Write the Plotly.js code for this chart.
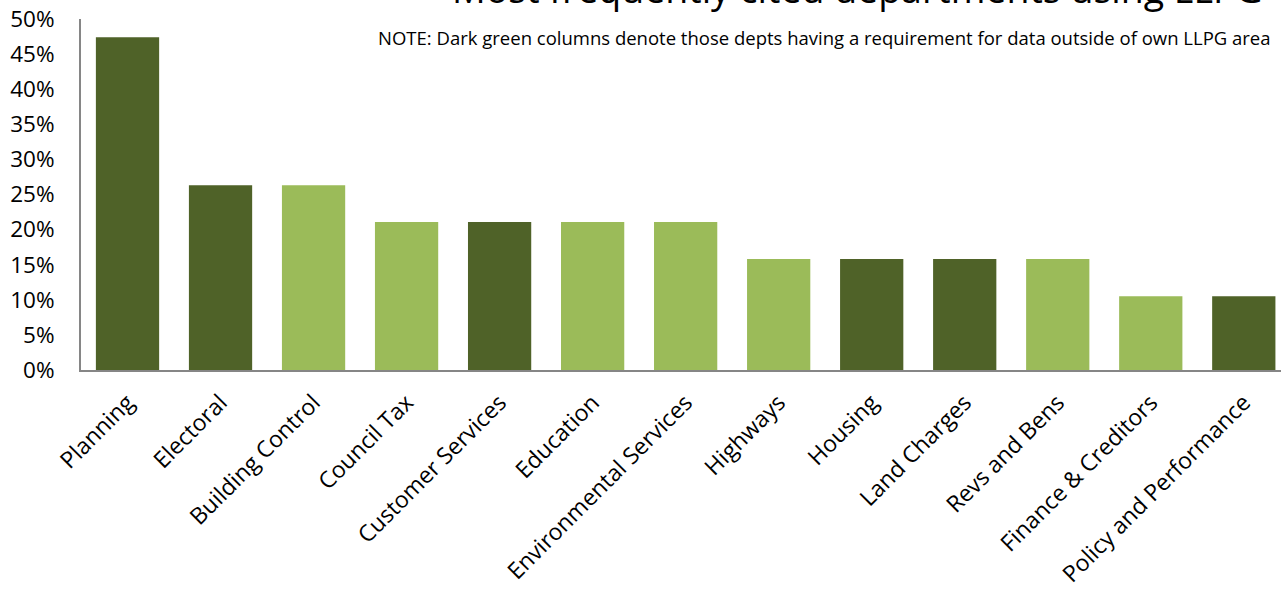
<!DOCTYPE html>
<html>
<head>
<meta charset="utf-8">
<script src="https://cdn.plot.ly/plotly-3.0.1.min.js"></script>
<style>html,body{margin:0;padding:0;background:#fff;}#chart{width:1281px;height:592px;}</style>
</head>
<body>
<div id="chart"></div>
<script>
var categories = ["Planning","Electoral","Building Control","Council Tax","Customer Services","Education","Environmental Services","Highways","Housing","Land Charges","Revs and Bens","Finance & Creditors","Policy and Performance"];
var values = [0.474,0.263,0.263,0.211,0.211,0.211,0.211,0.158,0.158,0.158,0.158,0.105,0.105];
var outsideArea = [true,true,false,false,true,false,false,false,true,true,false,false,true];
var titleText = "Most frequently cited departments using LLPG";
var noteText = "NOTE: Dark green columns denote those depts having a requirement for data outside of own LLPG area";

var DARK = "#4F6228", LIGHT = "#9BBB59";
var colors = outsideArea.map(function(o){ return o ? DARK : LIGHT; });

var trace = {
  type: "bar",
  x: categories,
  y: values,
  marker: {color: colors, line: {width: 0}},
  hoverinfo: "x+y"
};

var layout = {
  width: 1281, height: 592,
  margin: {l: 81, r: 0, t: 19, b: 222},
  paper_bgcolor: "#fff", plot_bgcolor: "#fff",
  font: {family: "'Open Sans', sans-serif", color: "#000"},
  bargap: 0.32,
  showlegend: false,
  xaxis: {
    range: [-0.5, 12.4],
    tickangle: -45,
    tickfont: {size: 23, color: "#000"},
    showline: true, linecolor: "#868686", linewidth: 2,
    ticks: "", showgrid: false, zeroline: false,
    ticklabelstandoff: 8
  },
  yaxis: {
    range: [0, 0.5],
    dtick: 0.05,
    tickformat: ".0%",
    tickfont: {size: 22.5, color: "#000"},
    showline: true, linecolor: "#868686", linewidth: 2,
    ticks: "", showgrid: false, zeroline: false,
    ticklabelstandoff: 20
  },
  annotations: [
    {text: titleText, xref: "paper", yref: "paper", x: (450-81)/1200, y: 1 + (19+12)/351,
     xanchor: "left", yanchor: "middle", showarrow: false, font: {size: 37.5, color: "#000"}},
    {text: noteText, xref: "paper", yref: "paper", x: (1273-81)/1200, y: 1 - (37-19)/351,
     xanchor: "right", yanchor: "middle", showarrow: false, font: {size: 18.5, color: "#000"}}
  ]
};

Plotly.newPlot("chart", [trace], layout, {displayModeBar: false, staticPlot: true});
</script>
</body>
</html>
